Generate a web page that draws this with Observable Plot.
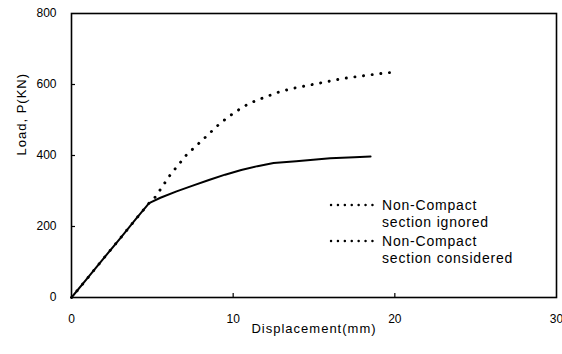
<!DOCTYPE html>
<html>
<head>
<meta charset="utf-8">
<script src="https://cdn.jsdelivr.net/npm/d3@7"></script>
<script src="https://cdn.jsdelivr.net/npm/@observablehq/plot@0.6"></script>
<style>
  html, body { margin: 0; padding: 0; background: #fff; }
  #wrap { position: relative; width: 562px; height: 354px; background: #fff; color: #000; }
  #legend { position: absolute; left: 0; top: 0; pointer-events: none; }
  #legend text { font-family: "Liberation Sans", Arial, sans-serif; font-size: 14px; letter-spacing: 0.8px; fill: #000; }
</style>
</head>
<body>
<div id="wrap"></div>
<script>
// Series: Non-Compact section ignored (upper, dotted)
const dispIgnored = [0, 1, 2, 3, 4, 4.8, 5.2, 6.1, 7.1, 8.2, 9.2, 10.1, 11.0, 12.0, 12.9, 13.8, 14.8, 15.8, 16.8, 18.1, 19.5, 19.8];
const loadIgnored = [0, 55, 111, 166, 222, 266, 284, 345, 401, 448, 491, 522, 547, 565, 580, 590, 599, 608, 617, 625, 633, 634];
// Series: Non-Compact section considered (lower, solid)
const dispConsidered = [0, 1, 2, 3, 4, 4.8, 5.5, 6.5, 7.5, 8.5, 9.5, 10.5, 11.5, 12.5, 13.9, 16.0, 17.5, 18.5];
const loadConsidered = [0, 55, 111, 166, 222, 266, 281, 299, 315, 331, 346, 359, 370, 379, 384, 392, 395, 397];

const seriesNames = ["Non-Compact section ignored", "Non-Compact section considered"];
const xTicks = [0, 10, 20, 30];
const yTicks = [0, 200, 400, 600, 800];
const xTitle = "Displacement(mm)";
const yTitle = "Load, P(KN)";

const ignored = dispIgnored.map((d, i) => ({disp: d, load: loadIgnored[i]}));
const considered = dispConsidered.map((d, i) => ({disp: d, load: loadConsidered[i]}));

const chart = Plot.plot({
  width: 562,
  height: 354,
  marginLeft: 71,
  marginRight: 6,
  marginTop: 13,
  marginBottom: 57,
  style: {fontFamily: '"Liberation Sans", Arial, sans-serif', fontSize: "12px", background: "#fff", color: "#000"},
  x: {domain: [0, 30]},
  y: {domain: [0, 800]},
  marks: [
    Plot.axisX(xTicks, {tickSize: 0, tickPadding: 17, label: null}),
    Plot.axisY(yTicks, {tickSize: 0, tickPadding: 15, label: null}),
    Plot.ruleX(xTicks.slice(1, -1), {y1: 0, y2: 0, insetTop: -4, stroke: "#000", strokeWidth: 1.2}),
    Plot.ruleY(yTicks.slice(1, -1), {x1: 0, x2: 0, insetRight: -4, stroke: "#000", strokeWidth: 1.2}),
    Plot.frame({stroke: "#000", strokeWidth: 1.6}),
    Plot.line(considered, {x: "disp", y: "load", stroke: "#000", strokeWidth: 2}),
    Plot.line(ignored, {x: "disp", y: "load", stroke: "#000", strokeWidth: 2.9, strokeDasharray: "0.1 8.6", strokeLinecap: "round"}),
    Plot.text([xTitle], {frameAnchor: "bottom", dy: 35, fontSize: 13, fill: "#000"}),
    Plot.text([yTitle], {frameAnchor: "left", rotate: -90, dx: -49.5, fontSize: 13, fill: "#000"})
  ]
});

d3.select(chart).selectAll("text").each(function() {
  const t = this.textContent;
  if (t === xTitle || t === yTitle) d3.select(this).style("letter-spacing", "1px");
});

const wrap = document.getElementById("wrap");
wrap.appendChild(chart);

// Legend overlay
const leg = d3.select(wrap).append("svg")
  .attr("id", "legend").attr("width", 562).attr("height", 354);
const rows = [
  {lineY: 205, lines: ["Non-Compact", "section ignored"], base: 210},
  {lineY: 241, lines: ["Non-Compact", "section considered"], base: 246}
];
rows.forEach((r, k) => {
  leg.append("line")
    .attr("x1", 331).attr("x2", 378).attr("y1", r.lineY).attr("y2", r.lineY)
    .attr("stroke", "#000").attr("stroke-width", 2.4)
    .attr("stroke-dasharray", "0.1 6.8").attr("stroke-linecap", "round");
  r.lines.forEach((s, j) => {
    leg.append("text").attr("x", 382).attr("y", r.base + j * 16.8).text(s);
  });
});
</script>
</body>
</html>
